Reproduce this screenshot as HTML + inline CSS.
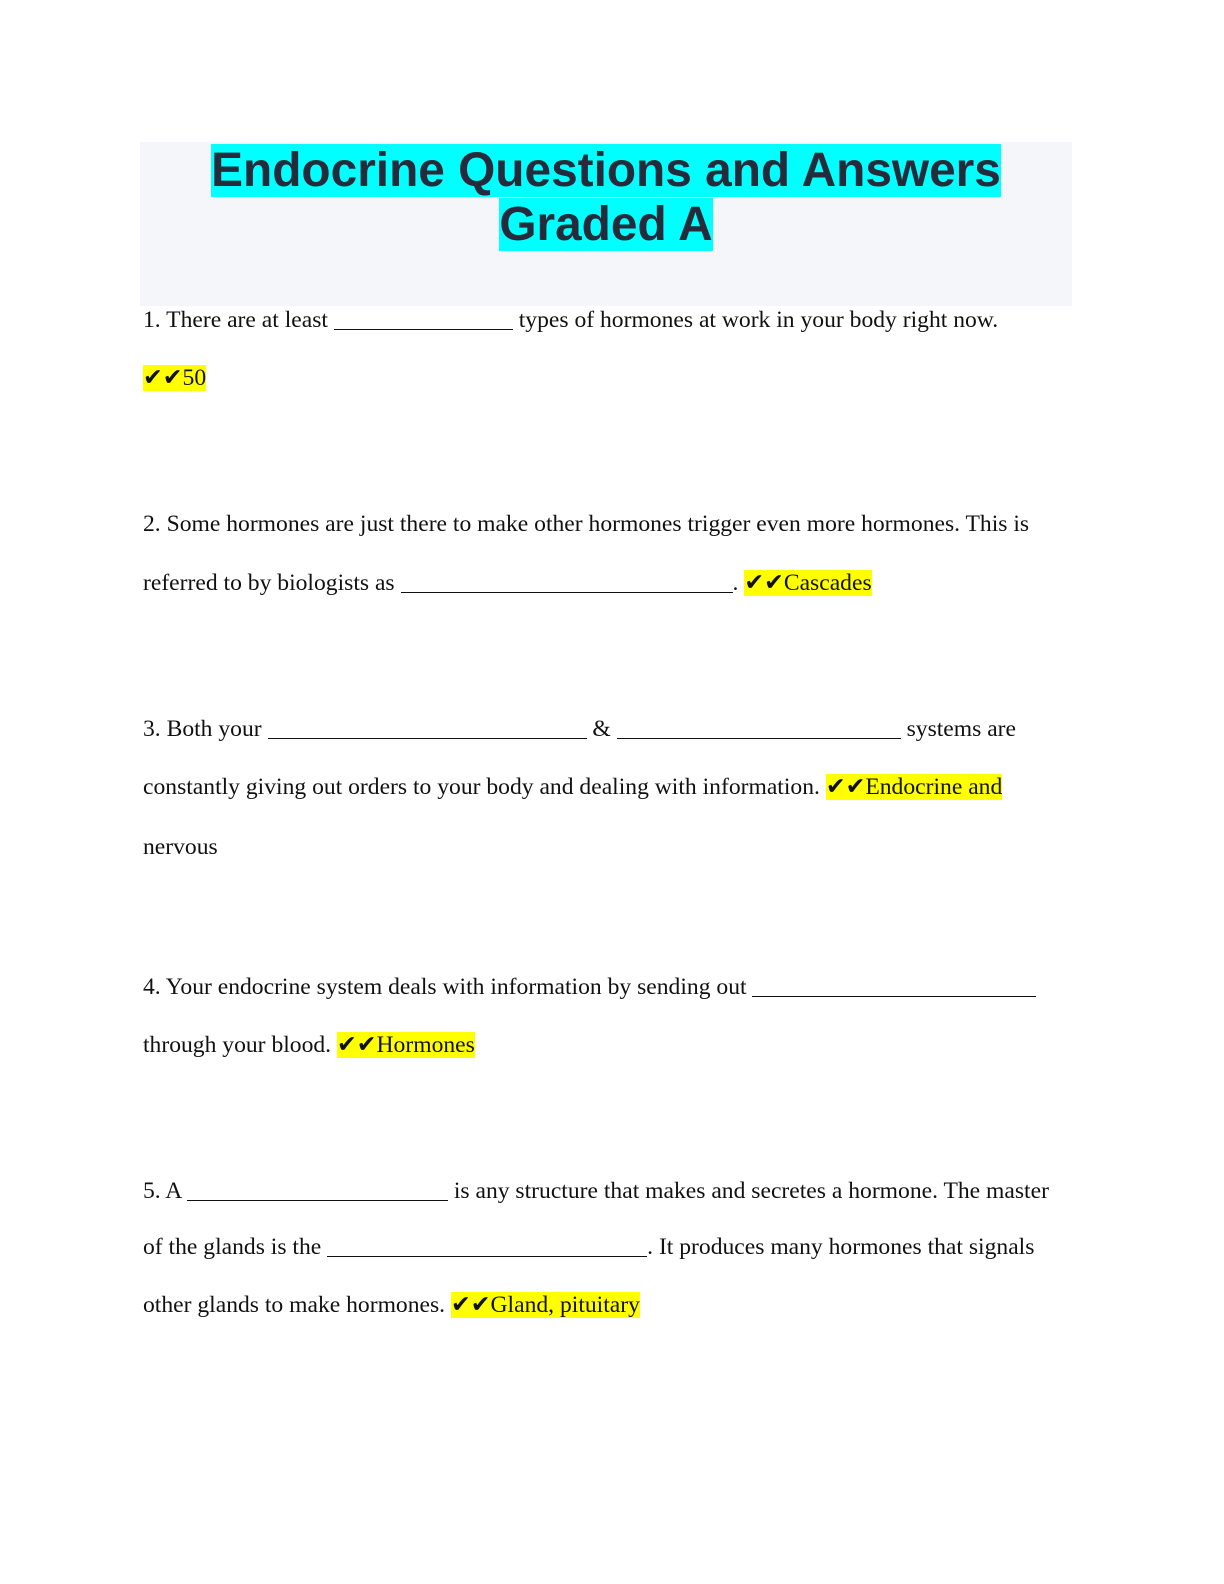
<!DOCTYPE html>
<html><head><meta charset="utf-8"><style>
body{margin:0;width:1224px;height:1584px;background:#fff;position:relative;overflow:hidden}
.box{position:absolute;left:140px;top:142px;width:932px;height:164px;background:#f5f6fa}
.t{position:absolute;left:140px;width:932px;text-align:center;font-family:"Liberation Sans",sans-serif;font-weight:bold;font-size:47.8px;color:#252b3a;line-height:54px}
.t span{background:#00ffff}
.l{position:absolute;left:143px;font-family:"Liberation Serif",serif;font-size:23.6px;color:#111;white-space:nowrap;line-height:27px}
.h{background:#ffff00}
.b{display:inline-block;border-bottom:1.3px solid #111;height:1px;vertical-align:-3px}
</style></head><body>
<div class="box"></div>
<div class="t" style="top:144px"><span>Endocrine Questions and Answers</span></div>
<div class="t" style="top:198px"><span>Graded A</span></div>
<div class="l" style="top:307px">1. There are at least <span class="b" style="width:179px"></span> types of hormones at work in your body right now.</div>
<div class="l" style="top:365px"><span class="h">✔✔50</span></div>
<div class="l" style="top:511px">2. Some hormones are just there to make other hormones trigger even more hormones. This is</div>
<div class="l" style="top:570px">referred to by biologists as <span class="b" style="width:332px"></span>. <span class="h">✔✔Cascades</span></div>
<div class="l" style="top:716px">3. Both your <span class="b" style="width:319px"></span> &amp; <span class="b" style="width:284px"></span> systems are</div>
<div class="l" style="top:774px">constantly giving out orders to your body and dealing with information. <span class="h">✔✔Endocrine and</span></div>
<div class="l" style="top:834px">nervous</div>
<div class="l" style="top:974px">4. Your endocrine system deals with information by sending out <span class="b" style="width:284px"></span></div>
<div class="l" style="top:1032px">through your blood. <span class="h">✔✔Hormones</span></div>
<div class="l" style="top:1178px">5. A <span class="b" style="width:261px"></span> is any structure that makes and secretes a hormone. The master</div>
<div class="l" style="top:1234px">of the glands is the <span class="b" style="width:320px"></span>. It produces many hormones that signals</div>
<div class="l" style="top:1292px">other glands to make hormones. <span class="h">✔✔Gland, pituitary</span></div>
</body></html>
